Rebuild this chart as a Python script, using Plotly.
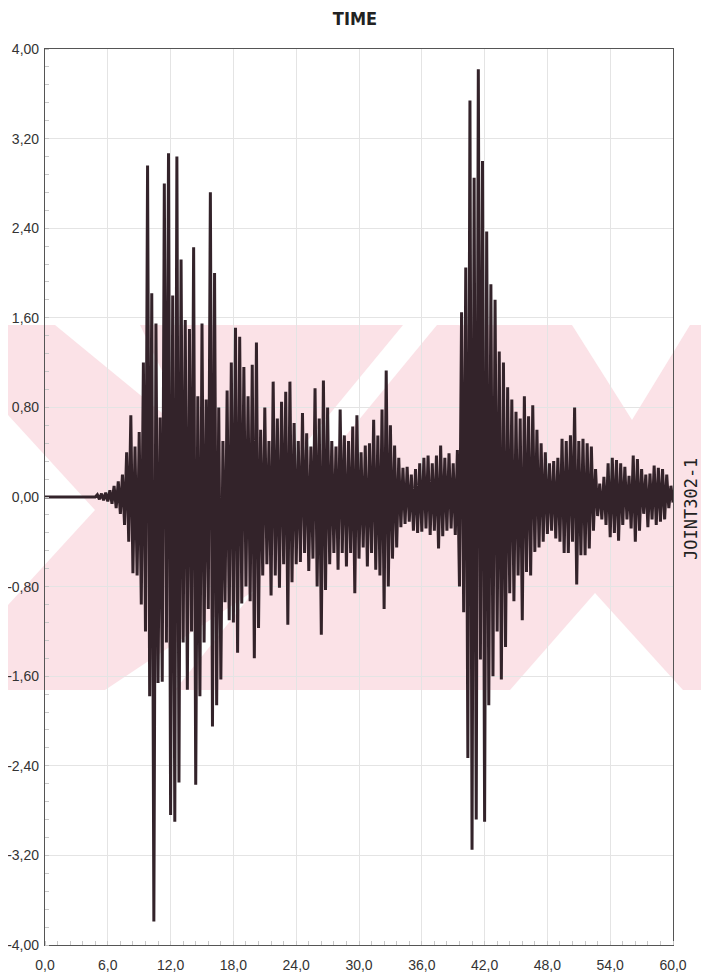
import numpy as np
import plotly.graph_objects as go

# ---------------- data ----------------
# quiet pre-event record
pre_t = [0.0, 4.8]
pre_v = [0.0, 0.0]

# positive peaks, one every 0.4 s starting at 5.0 s
pos_start, pos_step = 5.0, 0.4
pos_peaks = [
    0.02, 0.03, 0.04, 0.06, 0.10, 0.14, 0.20, 0.40, 0.73, 0.45,
    0.58, 1.20, 2.96, 1.82, 1.55, 0.71, 2.80, 3.07, 1.80, 3.04,
    2.12, 1.58, 1.50, 2.23, 0.90, 1.55, 0.87, 2.72, 2.00, 0.80,
    0.50, 0.95, 1.20, 1.51, 1.43, 1.16, 0.90, 1.18, 1.38, 0.60,
    0.80, 0.50, 1.03, 0.70, 0.85, 0.94, 1.03, 0.66, 0.50, 0.75,
    0.57, 0.45, 0.97, 0.70, 1.04, 0.80, 0.50, 0.45, 0.78, 0.55,
    0.50, 0.63, 0.73, 0.40, 0.46, 0.48, 0.69, 0.55, 0.78, 1.13,
    0.64, 0.46, 0.35, 0.26, 0.27, 0.20, 0.25, 0.30, 0.35, 0.37,
    0.30, 0.37, 0.46, 0.35, 0.39, 0.30, 0.42, 1.65, 2.05, 3.54,
    2.85, 3.82, 3.00, 2.37, 1.90, 1.76, 1.30, 1.20, 0.98, 0.87,
    0.76, 0.70, 0.90, 0.72, 0.82, 0.60, 0.48, 0.40, 0.30, 0.32,
    0.35, 0.52, 0.50, 0.55, 0.80, 0.50, 0.52, 0.48, 0.45, 0.25,
    0.12, 0.18, 0.30, 0.35, 0.33, 0.30, 0.27, 0.19, 0.37, 0.34,
    0.25, 0.20, 0.21, 0.28, 0.26, 0.25, 0.20, 0.10,
]

# negative peaks, one every 0.4 s starting at 5.2 s
neg_start, neg_step = 5.2, 0.4
neg_peaks = [
    -0.02, -0.03, -0.04, -0.06, -0.10, -0.15, -0.25, -0.40, -0.68, -0.70,
    -0.96, -1.20, -1.78, -3.79, -1.66, -1.65, -1.30, -2.84, -2.90, -2.55,
    -1.30, -1.72, -1.20, -2.57, -1.78, -1.30, -1.00, -2.05, -1.86, -1.63,
    -0.94, -1.10, -1.12, -1.39, -0.95, -0.80, -0.93, -1.44, -1.17, -0.70,
    -0.60, -0.88, -0.70, -0.81, -0.60, -1.14, -0.76, -0.60, -0.58, -0.50,
    -0.66, -0.55, -0.80, -1.23, -0.83, -0.60, -0.50, -0.65, -0.50, -0.62,
    -0.50, -0.86, -0.55, -0.45, -0.62, -0.50, -0.65, -0.70, -1.00, -0.80,
    -0.55, -0.45, -0.27, -0.24, -0.22, -0.30, -0.32, -0.31, -0.28, -0.34,
    -0.30, -0.46, -0.35, -0.30, -0.28, -0.34, -0.80, -1.03, -2.33, -3.15,
    -2.88, -1.45, -2.90, -1.86, -1.60, -1.20, -1.63, -1.34, -0.86, -0.93,
    -0.70, -1.10, -0.67, -0.70, -0.49, -0.45, -0.40, -0.33, -0.30, -0.37,
    -0.40, -0.50, -0.50, -0.40, -0.78, -0.52, -0.52, -0.46, -0.30, -0.17,
    -0.20, -0.25, -0.36, -0.32, -0.39, -0.25, -0.20, -0.28, -0.40, -0.30,
    -0.15, -0.27, -0.20, -0.25, -0.22, -0.20, -0.10, -0.05,
]

x_tickvals = [0, 6, 12, 18, 24, 30, 36, 42, 48, 54, 60]
x_ticktext = ["0,0", "6,0", "12,0", "18,0", "24,0", "30,0", "36,0", "42,0", "48,0", "54,0", "60,0"]
y_tickvals = [-4.0, -3.2, -2.4, -1.6, -0.8, 0.0, 0.8, 1.6, 2.4, 3.2, 4.0]
y_ticktext = ["-4,00", "-3,20", "-2,40", "-1,60", "-0,80", "0,00", "0,80", "1,60", "2,40", "3,20", "4,00"]

title_text = "TIME"
side_label = "JOINT302-1"

# ---------------- build series ----------------
pos_t = pos_start + pos_step * np.arange(len(pos_peaks))
neg_t = neg_start + neg_step * np.arange(len(neg_peaks))
t_all = np.concatenate([pre_t, pos_t, neg_t])
v_all = np.concatenate([pre_v, pos_peaks, neg_peaks])
order = np.argsort(t_all, kind="stable")
t_all = t_all[order]
v_all = v_all[order]

# ---------------- figure geometry ----------------
# the page body has an 8 px margin, so the figure is 16 px smaller than the window
OFF = 8
W, H = 709 - 2 * OFF, 980 - 2 * OFF
# plot area in window pixels: x 45..673, y 49..945
ML = 45 - OFF
MR = W - (673 - OFF)
MT = 49 - OFF
MB = H - (945 - OFF)
PW, PH = W - ML - MR, H - MT - MB


def px(x):  # window pixel -> paper
    return (x - OFF - ML) / PW


def py(y):
    return (H - MB - (y - OFF)) / PH


def poly(pts, color):
    d = "M " + " L ".join(f"{px(a):.4f},{py(b):.4f}" for a, b in pts) + " Z"
    return dict(type="path", path=d, xref="paper", yref="paper",
                fillcolor=color, line=dict(width=0), layer="below")


fig = go.Figure()
fig.add_trace(go.Scatter(
    x=t_all, y=v_all, mode="lines",
    line=dict(color="#33232a", width=3),
    hoverinfo="skip", showlegend=False,
))

# faint pink watermark of the scanned page (decoration, window pixel positions)
pink = "#fbe2e7"
white = "#ffffff"
shapes = [
    poly([(OFF, 325), (709, 325), (709, 690), (OFF, 690)], pink),
    poly([(OFF, 415), (95, 510), (OFF, 605)], white),
    poly([(55, 325), (140, 325), (195, 440)], white),
    poly([(105, 690), (175, 690), (255, 590)], white),
    poly([(403, 325), (437, 325), (334, 450), (300, 450)], white),
    poly([(572, 325), (690, 325), (632, 420)], white),
    poly([(510, 690), (595, 593), (683, 690)], white),
]
fig.update_layout(shapes=shapes)

fig.update_layout(
    width=W, height=H,
    margin=dict(l=ML, r=MR, t=MT, b=MB, autoexpand=False),
    paper_bgcolor="white",
    plot_bgcolor="rgba(0,0,0,0)",
    title=dict(text="<b>" + title_text + "</b>", x=(355 - OFF) / W, xref="container", xanchor="center",
               y=1 - (19 - OFF) / H, yref="container", yanchor="middle",
               font=dict(family="DejaVu Sans Condensed, DejaVu Sans Mono", size=18, color="#222")),
    annotations=[dict(text=side_label, textangle=-90, xref="paper", yref="paper",
                      x=px(691), y=py(509), xanchor="center", yanchor="middle",
                      showarrow=False,
                      font=dict(family="DejaVu Sans Mono", size=17, color="#222"))],
)

fig.update_xaxes(
    range=[0, 60], tickvals=x_tickvals, ticktext=x_ticktext, automargin=False,
    showgrid=True, gridcolor="#e4e4e4", gridwidth=1,
    showline=True, linecolor="#555", linewidth=1.2, mirror=True,
    zeroline=False, ticks="", ticklabelstandoff=7,
    tickfont=dict(family="Liberation Sans, Arial", size=14, color="#333"),
    minor=dict(dtick=1.2, ticks="inside", ticklen=4, tickcolor="#c8c8c8", showgrid=False),
)
fig.update_yaxes(
    range=[-4, 4], tickvals=y_tickvals, ticktext=y_ticktext, automargin=False,
    showgrid=True, gridcolor="#e4e4e4", gridwidth=1,
    showline=True, linecolor="#555", linewidth=1.2, mirror=True,
    zeroline=False, ticks="", ticklabelstandoff=2,
    tickfont=dict(family="Liberation Sans, Arial", size=14, color="#333"),
    minor=dict(dtick=0.16, ticks="inside", ticklen=4, tickcolor="#c8c8c8", showgrid=False),
)

fig.write_html("out.html")
